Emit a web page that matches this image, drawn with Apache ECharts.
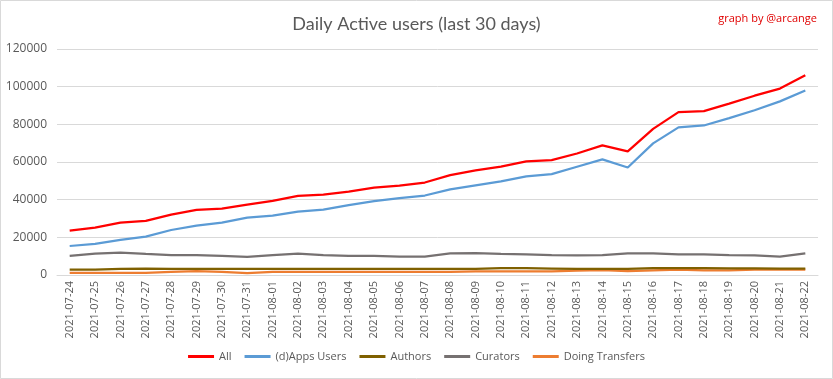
<!DOCTYPE html>
<html>
<head>
<meta charset="utf-8">
<script src="https://cdn.jsdelivr.net/npm/echarts@6/dist/echarts.min.js"></script>
<style>
html,body{margin:0;padding:0;background:#fff;}
#c{width:833px;height:379px;}
</style>
</head>
<body>
<div id="c"></div>
<script>
var dates = ["2021-07-24","2021-07-25","2021-07-26","2021-07-27","2021-07-28","2021-07-29","2021-07-30","2021-07-31","2021-08-01","2021-08-02","2021-08-03","2021-08-04","2021-08-05","2021-08-06","2021-08-07","2021-08-08","2021-08-09","2021-08-10","2021-08-11","2021-08-12","2021-08-13","2021-08-14","2021-08-15","2021-08-16","2021-08-17","2021-08-18","2021-08-19","2021-08-20","2021-08-21","2021-08-22"];
var allUsers = [23600,25200,27800,28700,32100,34600,35300,37400,39400,42000,42700,44300,46400,47500,49100,53000,55500,57500,60300,61000,64500,68800,65600,77600,86500,87000,91000,95200,99000,106100];
var appsUsers = [15400,16500,18600,20400,23900,26200,27800,30500,31500,33700,34700,37100,39200,40800,42200,45500,47600,49700,52400,53600,57500,61400,57100,69900,78400,79400,83300,87500,92200,98000];
var authors = [2800,2900,3300,3400,3300,3300,3300,3200,3200,3200,3200,3200,3200,3200,3200,3300,3300,3700,3600,3400,3200,3200,3300,3600,3700,3600,3500,3500,3400,3400];
var curators = [10100,11300,11900,11200,10600,10600,10100,9600,10600,11300,10600,10100,10100,9800,9800,11500,11600,11200,11000,10500,10400,10500,11500,11500,11000,11000,10500,10400,9800,11500];
var transfers = [1100,1100,1100,1100,1600,2100,1600,1000,1700,1700,1700,1700,1700,1700,1700,1700,1900,1900,1900,1900,2300,2600,2000,2500,2800,2500,2400,2800,3000,2900];
var yTicks = [0,20000,40000,60000,80000,100000,120000];

var chart = echarts.init(document.getElementById('c'), null, {renderer:'canvas'});
function mk(name, data, color, w){
  return {name:name, type:'line', data:data, symbol:'none', smooth:false,
    lineStyle:{color:color, width:w}, itemStyle:{color:color}, z: 2};
}
chart.setOption({
  animation:false,
  backgroundColor:'#ffffff',
  textStyle:{fontFamily:'Open Sans'},
  title:[{text:'Daily Active users (last 30 days)', left:'center', top:10,
    textStyle:{fontFamily:'Lato', fontSize:18, fontWeight:'normal', color:'#595959'}},
    {text:'graph by @arcange', right:11, top:8,
    textStyle:{fontFamily:'Open Sans', fontSize:11, fontWeight:'normal', color:'#e00000'}}],
  graphic:[{type:'rect', shape:{x:0.5,y:0.5,width:832,height:378}, style:{fill:'none', stroke:'#d9d9d9', lineWidth:1}, silent:true}],
  legend:{bottom:12, left:'center', itemWidth:26, itemHeight:3, itemGap:13, icon:'rect',
    textStyle:{fontFamily:'Open Sans', fontSize:11, color:'#595959'},
    data:['All','(d)Apps Users','Authors','Curators','Doing Transfers']},
  grid:{left:57, right:15, top:49, bottom:104, containLabel:false},
  xAxis:{type:'category', data:dates, boundaryGap:true,
    axisLine:{lineStyle:{color:'#d9d9d9', width:1}}, axisTick:{show:false},
    axisLabel:{rotate:90, interval:0, fontSize:11, color:'#595959', margin:6, fontFamily:'Open Sans'}},
  yAxis:{type:'value', min:yTicks[0], max:yTicks[yTicks.length-1], interval:yTicks[1]-yTicks[0],
    axisLine:{show:false}, axisTick:{show:false},
    splitLine:{lineStyle:{color:'#d9d9d9', width:1}},
    axisLabel:{fontSize:12, color:'#595959', margin:10, fontFamily:'Open Sans',
      formatter:function(v){return String(v);}}},
  series:[
    mk('Doing Transfers', transfers, '#ed7d31', 2.25),
    mk('Curators', curators, '#767171', 2.25),
    mk('Authors', authors, '#7f6000', 2.25),
    mk('(d)Apps Users', appsUsers, '#5b9bd5', 2.25),
    mk('All', allUsers, '#ff0000', 2.25)
  ]
});
</script>
</body>
</html>
